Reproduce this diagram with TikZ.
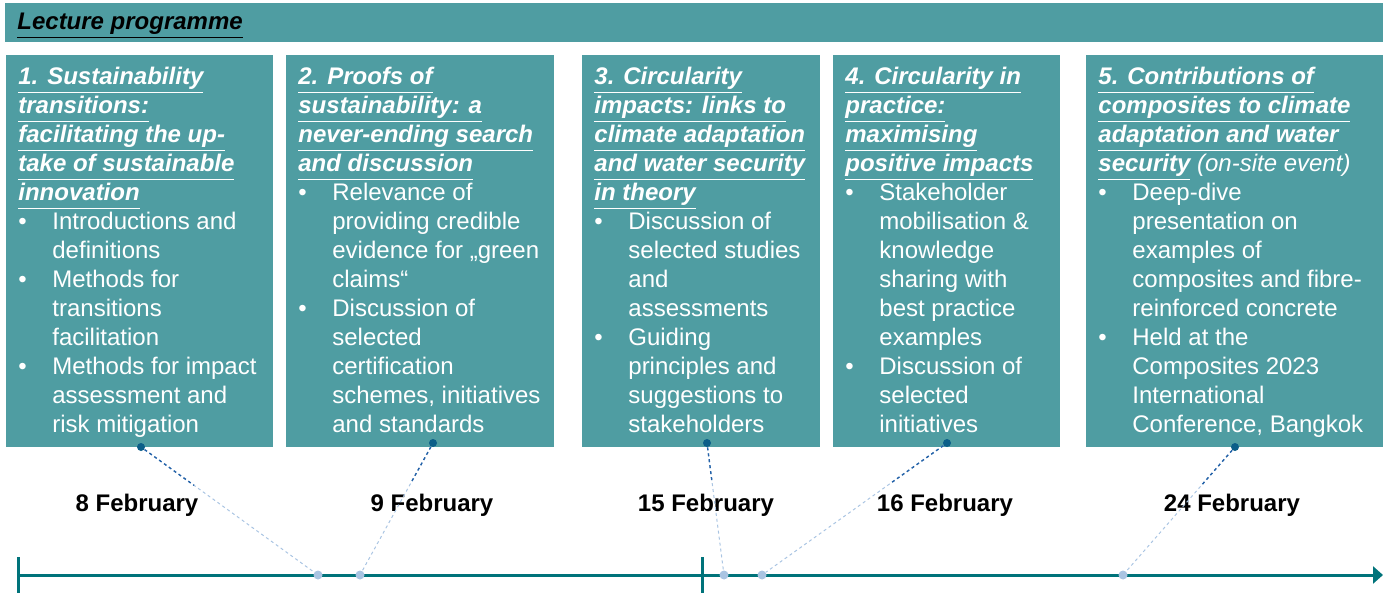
\documentclass[tikz,border=0pt]{standalone}
\usepackage{fontspec}
\setmainfont{Liberation Sans}
\usetikzlibrary{arrows.meta,calc}

\definecolor{boxteal}{HTML}{4F9DA2}
\definecolor{axisteal}{HTML}{00737A}
\definecolor{dotdark}{HTML}{0B5E88}
\definecolor{dashdark}{HTML}{2462A8}
\definecolor{dotlight}{HTML}{A9C4E2}

\newcommand{\hd}[1]{\textbf{\textit{\underline{#1\vphantom{gy}}}}}
\newcommand{\bul}{\makebox[17pt][l]{\textbullet}}
\newcommand{\ind}{\hspace*{17pt}}

\begin{document}
\begin{tikzpicture}[x=0.5pt, y=-0.5pt]
	\tikzstyle{every node}=[inner sep=0pt]
	\tikzstyle{panel}=[fill=boxteal, minimum height=196pt, anchor=north west]
	\tikzstyle{body}=[anchor=north west, align=left, text=white, font=\fontsize{12}{14.5}\selectfont]
	\tikzstyle{date}=[anchor=base, font=\bfseries\fontsize{12}{14.5}\selectfont]
	\tikzstyle{boxdot}=[circle, fill=dotdark, minimum size=4pt]
	\tikzstyle{linedot}=[circle, fill=dotlight, minimum size=4.5pt]
	\tikzstyle{conn}=[dotlight, line width=0.5pt, dash pattern=on 1.5pt off 1.5pt]
	\tikzstyle{conndark}=[dashdark, line width=0.7pt, dash pattern=on 1.5pt off 1.5pt]
	\tikzstyle{axis}=[axisteal, line width=1.5pt]

	\useasboundingbox (0,0) rectangle (1386,593);

	% header
	\node[panel, minimum width=689pt, minimum height=19.5pt] (head) at (5,3) {};
	\node[anchor=base west, font=\bfseries\itshape\fontsize{12}{14.5}\selectfont] (title) at (17,30) {\underline{Lecture programme\vphantom{g}}};

	% lecture boxes
	\node[panel, minimum width=133.5pt] (b1) at (6,55) {};
	\node[panel, minimum width=134pt] (b2) at (286,55) {};
	\node[panel, minimum width=119pt] (b3) at (582,55) {};
	\node[panel, minimum width=113.5pt] (b4) at (833,55) {};
	\node[panel, minimum width=148.5pt] (b5) at (1086,55) {};

	\node[body] (t1) at ([shift={(12,12)}]b1.north west) {%
		\hd{1. Sustainability}\\
		\hd{transitions:}\\
		\hd{facilitating the up-}\\
		\hd{take of sustainable}\\
		\hd{innovation}\\
		\bul Introductions and\\
		\ind definitions\\
		\bul Methods for\\
		\ind transitions\\
		\ind facilitation\\
		\bul Methods for impact\\
		\ind assessment and\\
		\ind risk mitigation};
	\node[body] (t2) at ([shift={(12,12)}]b2.north west) {%
		\hd{2. Proofs of}\\
		\hd{sustainability: a}\\
		\hd{never-ending search}\\
		\hd{and discussion}\\
		\bul Relevance of\\
		\ind providing credible\\
		\ind evidence for „green\\
		\ind claims“\\
		\bul Discussion of\\
		\ind selected\\
		\ind certification\\
		\ind schemes, initiatives\\
		\ind and standards};
	\node[body] (t3) at ([shift={(12,12)}]b3.north west) {%
		\hd{3. Circularity}\\
		\hd{impacts: links to}\\
		\hd{climate adaptation}\\
		\hd{and water security}\\
		\hd{in theory}\\
		\bul Discussion of\\
		\ind selected studies\\
		\ind and\\
		\ind assessments\\
		\bul Guiding\\
		\ind principles and\\
		\ind suggestions to\\
		\ind stakeholders};
	\node[body] (t4) at ([shift={(12,12)}]b4.north west) {%
		\hd{4. Circularity in}\\
		\hd{practice:}\\
		\hd{maximising}\\
		\hd{positive impacts}\\
		\bul Stakeholder\\
		\ind mobilisation \&\\
		\ind knowledge\\
		\ind sharing with\\
		\ind best practice\\
		\ind examples\\
		\bul Discussion of\\
		\ind selected\\
		\ind initiatives};
	\node[body] (t5) at ([shift={(12,12)}]b5.north west) {%
		\hd{5. Contributions of}\\
		\hd{composites to climate}\\
		\hd{adaptation and water}\\
		\hd{security} \textit{(on-site event)}\\
		\bul Deep-dive\\
		\ind presentation on\\
		\ind examples of\\
		\ind composites and fibre-\\
		\ind reinforced concrete\\
		\bul Held at the\\
		\ind Composites 2023\\
		\ind International\\
		\ind Conference, Bangkok};

	% dates
	\node[date] (d1) at (137,511) {8 February};
	\node[date] (d2) at (432,511) {9 February};
	\node[date] (d3) at (706,511) {15 February};
	\node[date] (d4) at (945,511) {16 February};
	\node[date] (d5) at (1232,511) {24 February};

	% timeline
	\coordinate (start) at (18,575);
	\coordinate (end) at (1383,575);
	\draw[axis, -{Triangle[length=5pt, width=8.5pt]}] (start) -- (end);
	\draw[axis] (18,557) -- (18,593);
	\draw[axis] (702,557) -- (702,593);

	% dots and connectors
	\node[boxdot] (p1) at (141,447) {};
	\node[boxdot] (p2) at (433,443) {};
	\node[boxdot] (p3) at (707,443) {};
	\node[boxdot] (p4) at (947,443) {};
	\node[boxdot] (p5) at (1235,447) {};
	\node[linedot] (q1) at (318,575) {};
	\node[linedot] (q2) at (360,575) {};
	\node[linedot] (q3) at (724,575) {};
	\node[linedot] (q4) at (762,575) {};
	\node[linedot] (q5) at (1123,575) {};

	\foreach \i in {1,...,5} {
		\draw[conn] (p\i) -- (q\i);
		\draw[conndark] (p\i) -- ($(p\i)!0.3!(q\i)$);
	}
\end{tikzpicture}
\end{document}
